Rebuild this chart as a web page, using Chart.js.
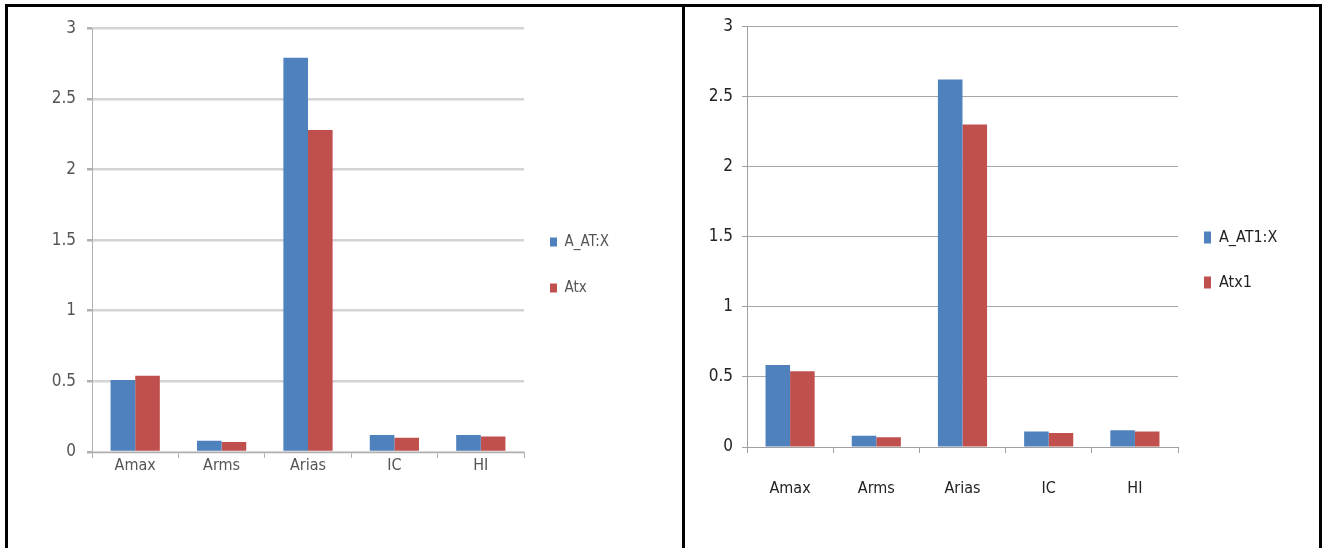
<!DOCTYPE html>
<html>
<head>
<meta charset="utf-8">
<script src="https://cdn.jsdelivr.net/npm/chart.js@4/dist/chart.umd.min.js"></script>
<style>
  html, body { margin: 0; padding: 0; background: #fff; width: 1325px; height: 548px; overflow: hidden; }
  .bar { position: absolute; background: #000; }
  canvas { position: absolute; }
</style>
</head>
<body>
<div class="bar" style="left:5px;top:4px;width:1317px;height:3px;"></div>
<div class="bar" style="left:5px;top:4px;width:3px;height:544px;"></div>
<div class="bar" style="left:682px;top:4px;width:3px;height:544px;"></div>
<div class="bar" style="left:1319px;top:4px;width:3px;height:544px;"></div>
<div style="position:absolute;left:8px;top:7px;width:674px;height:541px;"><canvas id="c1" width="674" height="541" style="left:0;top:0;width:674px;height:541px;"></canvas></div>
<div style="position:absolute;left:685px;top:7px;width:634px;height:541px;"><canvas id="c2" width="634" height="541" style="left:0;top:0;width:634px;height:541px;"></canvas></div>
<script>
const categories = ['Amax', 'Arms', 'Arias', 'IC', 'HI'];
const leftNames = ['A_AT:X', 'Atx'];
const leftA = [0.51, 0.08, 2.79, 0.12, 0.12];
const leftB = [0.54, 0.07, 2.28, 0.10, 0.11];
const rightNames = ['A_AT1:X', 'Atx1'];
const rightA = [0.585, 0.08, 2.62, 0.11, 0.12];
const rightB = [0.54, 0.07, 2.30, 0.10, 0.11];
const yMin = 0, yMax = 3, yStep = 0.5;

const BLUE = '#4F81BD', RED = '#C0504D';
const FONT = "'DejaVu Sans Condensed', 'Liberation Sans Narrow', 'DejaVu Sans', sans-serif";

const legendShift = {
  id: 'legendShift',
  beforeDraw(chart, args, opts) {
    const l = chart.legend;
    if (!l) return;
    l.top = chart.chartArea.top + opts.dy;
    l.bottom = chart.chartArea.bottom + opts.dy;
    l.height = l.bottom - l.top;
    l.left = chart.chartArea.right + opts.dx;
    l.right = chart.width;
    l.width = l.right - l.left;
  }
};

function makeChart(id, names, a, b, cfg) {
  return new Chart(document.getElementById(id), {
    type: 'bar',
    data: {
      labels: categories,
      datasets: [
        { label: names[0], data: a, backgroundColor: BLUE, borderWidth: 0 },
        { label: names[1], data: b, backgroundColor: RED, borderWidth: 0 }
      ]
    },
    plugins: [legendShift],
    options: {
      responsive: false,
      animation: false,
      devicePixelRatio: 1,
      categoryPercentage: 0.57,
      barPercentage: 1.0,
      layout: { padding: { top: cfg.padTop, right: cfg.padRight, bottom: 0, left: 0 } },
      plugins: {
        tooltip: { enabled: false },
        legend: {
          position: 'right',
          maxWidth: 40,
          labels: {
            boxWidth: 7, boxHeight: cfg.boxH, padding: cfg.legendPad,
            color: cfg.textColor,
            font: { family: FONT, size: cfg.legendSize, lineHeight: 1.2 }
          }
        },
        legendShift: { dy: cfg.legendDy, dx: cfg.legendDx }
      },
      scales: {
        x: {
          afterFit(s) { s.height = cfg.xAxisH; },
          grid: { display: true, drawOnChartArea: false, tickLength: 6, color: cfg.axisColor, offset: true },
          border: { display: true, color: cfg.axisColor, width: 1 },
          ticks: { color: cfg.textColor, padding: cfg.xPad, font: { family: FONT, size: cfg.xTickSize } }
        },
        y: {
          min: yMin, max: yMax,
          afterFit(s) { s.width = cfg.yAxisW; },
          grid: { color: cfg.gridColor, lineWidth: cfg.gridW, tickLength: 5, tickColor: cfg.axisColor, drawTicks: true },
          border: { display: true, color: cfg.axisColor, width: 1 },
          ticks: {
            stepSize: yStep, color: cfg.textColor, padding: cfg.yPad,
            font: { family: FONT, size: cfg.yTickSize },
            callback: (v) => String(Math.round(v * 100) / 100)
          }
        }
      }
    }
  });
}

makeChart('c1', leftNames, leftA, leftB, {
  padTop: 18, padRight: 118, xAxisH: 96, yAxisW: 84, xPad: -2, yPad: 11,
  xTickSize: 16, yTickSize: 17, legendSize: 15, boxH: 9,
  legendPad: 31, legendDy: 25, legendDx: -5,
  textColor: '#555555', axisColor: '#b0b0b0', gridColor: '#d4d4d4', gridW: 2.5
});
makeChart('c2', rightNames, rightA, rightB, {
  padTop: 16, padRight: 101, xAxisH: 101, yAxisW: 62, xPad: 26, yPad: 9,
  xTickSize: 16, yTickSize: 17, legendSize: 16, boxH: 12,
  legendPad: 29, legendDy: 23.5, legendDx: -3,
  textColor: '#222222', axisColor: '#a0a0a0', gridColor: '#a6a6a6', gridW: 1
});
</script>
</body>
</html>
